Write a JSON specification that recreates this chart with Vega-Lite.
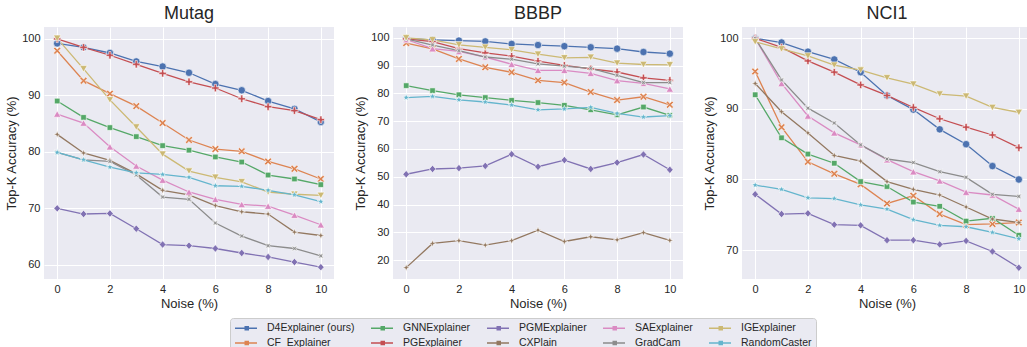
{
  "$schema": "https://vega.github.io/schema/vega-lite/v6.json",
  "background": "white",
  "padding": {"left": 5, "top": 5, "right": 0, "bottom": 0},
  "bounds": "flush",
  "spacing": 59,
  "config": {
    "font": "Liberation Sans",
    "view": {"fill": "#EAEAF2", "stroke": null},
    "axis": {
      "domain": false, "ticks": false, "grid": true, "gridColor": "#FFFFFF", "gridWidth": 1,
      "labelFont": "Liberation Sans", "labelFontSize": 11, "labelColor": "#262626", "labelPadding": 4,
      "titleFont": "Liberation Sans", "titleFontSize": 13, "titleFontWeight": "normal", "titleColor": "#262626", "titlePadding": 3
    },
    "title": {"font": "Liberation Sans", "fontSize": 18, "fontWeight": "normal", "color": "#262626", "offset": 4},
    "legend": {"labelFont": "Liberation Sans"}
  },
  "data": {"name": "all"},
  "datasets": {
    "all": [
      {"d":"Mutag","m":"D4Explainer (ours)","x":0,"y":99.2},{"d":"Mutag","m":"D4Explainer (ours)","x":1,"y":98.5},{"d":"Mutag","m":"D4Explainer (ours)","x":2,"y":97.5},{"d":"Mutag","m":"D4Explainer (ours)","x":3,"y":96.0},{"d":"Mutag","m":"D4Explainer (ours)","x":4,"y":95.1},{"d":"Mutag","m":"D4Explainer (ours)","x":5,"y":94.0},{"d":"Mutag","m":"D4Explainer (ours)","x":6,"y":92.0},{"d":"Mutag","m":"D4Explainer (ours)","x":7,"y":90.9},{"d":"Mutag","m":"D4Explainer (ours)","x":8,"y":89.0},{"d":"Mutag","m":"D4Explainer (ours)","x":9,"y":87.6},{"d":"Mutag","m":"D4Explainer (ours)","x":10,"y":85.3},
      {"d":"Mutag","m":"CF_Explainer","x":0,"y":97.9},{"d":"Mutag","m":"CF_Explainer","x":1,"y":92.6},{"d":"Mutag","m":"CF_Explainer","x":2,"y":90.3},{"d":"Mutag","m":"CF_Explainer","x":3,"y":88.1},{"d":"Mutag","m":"CF_Explainer","x":4,"y":85.1},{"d":"Mutag","m":"CF_Explainer","x":5,"y":82.1},{"d":"Mutag","m":"CF_Explainer","x":6,"y":80.5},{"d":"Mutag","m":"CF_Explainer","x":7,"y":80.1},{"d":"Mutag","m":"CF_Explainer","x":8,"y":78.3},{"d":"Mutag","m":"CF_Explainer","x":9,"y":77.0},{"d":"Mutag","m":"CF_Explainer","x":10,"y":75.2},
      {"d":"Mutag","m":"GNNExplainer","x":0,"y":89.0},{"d":"Mutag","m":"GNNExplainer","x":1,"y":86.1},{"d":"Mutag","m":"GNNExplainer","x":2,"y":84.3},{"d":"Mutag","m":"GNNExplainer","x":3,"y":82.7},{"d":"Mutag","m":"GNNExplainer","x":4,"y":81.1},{"d":"Mutag","m":"GNNExplainer","x":5,"y":80.3},{"d":"Mutag","m":"GNNExplainer","x":6,"y":79.1},{"d":"Mutag","m":"GNNExplainer","x":7,"y":78.2},{"d":"Mutag","m":"GNNExplainer","x":8,"y":75.9},{"d":"Mutag","m":"GNNExplainer","x":9,"y":75.2},{"d":"Mutag","m":"GNNExplainer","x":10,"y":74.2},
      {"d":"Mutag","m":"PGExplainer","x":0,"y":100.0},{"d":"Mutag","m":"PGExplainer","x":1,"y":98.5},{"d":"Mutag","m":"PGExplainer","x":2,"y":97.1},{"d":"Mutag","m":"PGExplainer","x":3,"y":95.5},{"d":"Mutag","m":"PGExplainer","x":4,"y":93.9},{"d":"Mutag","m":"PGExplainer","x":5,"y":92.4},{"d":"Mutag","m":"PGExplainer","x":6,"y":91.3},{"d":"Mutag","m":"PGExplainer","x":7,"y":89.4},{"d":"Mutag","m":"PGExplainer","x":8,"y":88.0},{"d":"Mutag","m":"PGExplainer","x":9,"y":87.3},{"d":"Mutag","m":"PGExplainer","x":10,"y":85.7},
      {"d":"Mutag","m":"PGMExplainer","x":0,"y":70.0},{"d":"Mutag","m":"PGMExplainer","x":1,"y":69.0},{"d":"Mutag","m":"PGMExplainer","x":2,"y":69.1},{"d":"Mutag","m":"PGMExplainer","x":3,"y":66.4},{"d":"Mutag","m":"PGMExplainer","x":4,"y":63.6},{"d":"Mutag","m":"PGMExplainer","x":5,"y":63.4},{"d":"Mutag","m":"PGMExplainer","x":6,"y":62.9},{"d":"Mutag","m":"PGMExplainer","x":7,"y":62.1},{"d":"Mutag","m":"PGMExplainer","x":8,"y":61.4},{"d":"Mutag","m":"PGMExplainer","x":9,"y":60.5},{"d":"Mutag","m":"PGMExplainer","x":10,"y":59.6},
      {"d":"Mutag","m":"CXPlain","x":0,"y":83.1},{"d":"Mutag","m":"CXPlain","x":1,"y":79.8},{"d":"Mutag","m":"CXPlain","x":2,"y":78.5},{"d":"Mutag","m":"CXPlain","x":3,"y":76.1},{"d":"Mutag","m":"CXPlain","x":4,"y":73.2},{"d":"Mutag","m":"CXPlain","x":5,"y":72.4},{"d":"Mutag","m":"CXPlain","x":6,"y":70.5},{"d":"Mutag","m":"CXPlain","x":7,"y":69.4},{"d":"Mutag","m":"CXPlain","x":8,"y":69.0},{"d":"Mutag","m":"CXPlain","x":9,"y":65.8},{"d":"Mutag","m":"CXPlain","x":10,"y":65.2},
      {"d":"Mutag","m":"SAExplainer","x":0,"y":86.7},{"d":"Mutag","m":"SAExplainer","x":1,"y":85.1},{"d":"Mutag","m":"SAExplainer","x":2,"y":80.9},{"d":"Mutag","m":"SAExplainer","x":3,"y":77.5},{"d":"Mutag","m":"SAExplainer","x":4,"y":75.0},{"d":"Mutag","m":"SAExplainer","x":5,"y":72.9},{"d":"Mutag","m":"SAExplainer","x":6,"y":71.6},{"d":"Mutag","m":"SAExplainer","x":7,"y":70.7},{"d":"Mutag","m":"SAExplainer","x":8,"y":70.4},{"d":"Mutag","m":"SAExplainer","x":9,"y":68.8},{"d":"Mutag","m":"SAExplainer","x":10,"y":67.1},
      {"d":"Mutag","m":"GradCam","x":0,"y":79.9},{"d":"Mutag","m":"GradCam","x":1,"y":78.6},{"d":"Mutag","m":"GradCam","x":2,"y":78.3},{"d":"Mutag","m":"GradCam","x":3,"y":75.9},{"d":"Mutag","m":"GradCam","x":4,"y":72.0},{"d":"Mutag","m":"GradCam","x":5,"y":71.6},{"d":"Mutag","m":"GradCam","x":6,"y":67.4},{"d":"Mutag","m":"GradCam","x":7,"y":65.1},{"d":"Mutag","m":"GradCam","x":8,"y":63.4},{"d":"Mutag","m":"GradCam","x":9,"y":62.9},{"d":"Mutag","m":"GradCam","x":10,"y":61.6},
      {"d":"Mutag","m":"IGExplainer","x":0,"y":100.1},{"d":"Mutag","m":"IGExplainer","x":1,"y":94.7},{"d":"Mutag","m":"IGExplainer","x":2,"y":89.2},{"d":"Mutag","m":"IGExplainer","x":3,"y":84.4},{"d":"Mutag","m":"IGExplainer","x":4,"y":79.6},{"d":"Mutag","m":"IGExplainer","x":5,"y":76.6},{"d":"Mutag","m":"IGExplainer","x":6,"y":75.5},{"d":"Mutag","m":"IGExplainer","x":7,"y":74.7},{"d":"Mutag","m":"IGExplainer","x":8,"y":72.9},{"d":"Mutag","m":"IGExplainer","x":9,"y":72.5},{"d":"Mutag","m":"IGExplainer","x":10,"y":72.3},
      {"d":"Mutag","m":"RandomCaster","x":0,"y":79.9},{"d":"Mutag","m":"RandomCaster","x":1,"y":78.6},{"d":"Mutag","m":"RandomCaster","x":2,"y":77.3},{"d":"Mutag","m":"RandomCaster","x":3,"y":76.3},{"d":"Mutag","m":"RandomCaster","x":4,"y":76.0},{"d":"Mutag","m":"RandomCaster","x":5,"y":75.5},{"d":"Mutag","m":"RandomCaster","x":6,"y":74.0},{"d":"Mutag","m":"RandomCaster","x":7,"y":73.9},{"d":"Mutag","m":"RandomCaster","x":8,"y":73.2},{"d":"Mutag","m":"RandomCaster","x":9,"y":72.4},{"d":"Mutag","m":"RandomCaster","x":10,"y":71.2},

      {"d":"BBBP","m":"D4Explainer (ours)","x":0,"y":99.8},{"d":"BBBP","m":"D4Explainer (ours)","x":1,"y":99.3},{"d":"BBBP","m":"D4Explainer (ours)","x":2,"y":99.0},{"d":"BBBP","m":"D4Explainer (ours)","x":3,"y":98.7},{"d":"BBBP","m":"D4Explainer (ours)","x":4,"y":97.8},{"d":"BBBP","m":"D4Explainer (ours)","x":5,"y":97.4},{"d":"BBBP","m":"D4Explainer (ours)","x":6,"y":97.0},{"d":"BBBP","m":"D4Explainer (ours)","x":7,"y":96.6},{"d":"BBBP","m":"D4Explainer (ours)","x":8,"y":96.1},{"d":"BBBP","m":"D4Explainer (ours)","x":9,"y":94.9},{"d":"BBBP","m":"D4Explainer (ours)","x":10,"y":94.3},
      {"d":"BBBP","m":"CF_Explainer","x":0,"y":98.1},{"d":"BBBP","m":"CF_Explainer","x":1,"y":96.0},{"d":"BBBP","m":"CF_Explainer","x":2,"y":92.4},{"d":"BBBP","m":"CF_Explainer","x":3,"y":89.4},{"d":"BBBP","m":"CF_Explainer","x":4,"y":87.6},{"d":"BBBP","m":"CF_Explainer","x":5,"y":84.7},{"d":"BBBP","m":"CF_Explainer","x":6,"y":83.9},{"d":"BBBP","m":"CF_Explainer","x":7,"y":80.5},{"d":"BBBP","m":"CF_Explainer","x":8,"y":77.6},{"d":"BBBP","m":"CF_Explainer","x":9,"y":78.8},{"d":"BBBP","m":"CF_Explainer","x":10,"y":75.9},
      {"d":"BBBP","m":"GNNExplainer","x":0,"y":82.8},{"d":"BBBP","m":"GNNExplainer","x":1,"y":81.0},{"d":"BBBP","m":"GNNExplainer","x":2,"y":79.5},{"d":"BBBP","m":"GNNExplainer","x":3,"y":78.5},{"d":"BBBP","m":"GNNExplainer","x":4,"y":77.5},{"d":"BBBP","m":"GNNExplainer","x":5,"y":76.7},{"d":"BBBP","m":"GNNExplainer","x":6,"y":75.7},{"d":"BBBP","m":"GNNExplainer","x":7,"y":74.1},{"d":"BBBP","m":"GNNExplainer","x":8,"y":72.3},{"d":"BBBP","m":"GNNExplainer","x":9,"y":75.1},{"d":"BBBP","m":"GNNExplainer","x":10,"y":72.1},
      {"d":"BBBP","m":"PGExplainer","x":0,"y":99.6},{"d":"BBBP","m":"PGExplainer","x":1,"y":98.6},{"d":"BBBP","m":"PGExplainer","x":2,"y":96.1},{"d":"BBBP","m":"PGExplainer","x":3,"y":94.6},{"d":"BBBP","m":"PGExplainer","x":4,"y":93.4},{"d":"BBBP","m":"PGExplainer","x":5,"y":91.6},{"d":"BBBP","m":"PGExplainer","x":6,"y":90.1},{"d":"BBBP","m":"PGExplainer","x":7,"y":88.8},{"d":"BBBP","m":"PGExplainer","x":8,"y":87.7},{"d":"BBBP","m":"PGExplainer","x":9,"y":85.6},{"d":"BBBP","m":"PGExplainer","x":10,"y":84.7},
      {"d":"BBBP","m":"PGMExplainer","x":0,"y":50.9},{"d":"BBBP","m":"PGMExplainer","x":1,"y":52.8},{"d":"BBBP","m":"PGMExplainer","x":2,"y":53.1},{"d":"BBBP","m":"PGMExplainer","x":3,"y":53.9},{"d":"BBBP","m":"PGMExplainer","x":4,"y":58.1},{"d":"BBBP","m":"PGMExplainer","x":5,"y":53.6},{"d":"BBBP","m":"PGMExplainer","x":6,"y":56.0},{"d":"BBBP","m":"PGMExplainer","x":7,"y":52.8},{"d":"BBBP","m":"PGMExplainer","x":8,"y":55.1},{"d":"BBBP","m":"PGMExplainer","x":9,"y":58.0},{"d":"BBBP","m":"PGMExplainer","x":10,"y":52.5},
      {"d":"BBBP","m":"CXPlain","x":0,"y":17.3},{"d":"BBBP","m":"CXPlain","x":1,"y":26.0},{"d":"BBBP","m":"CXPlain","x":2,"y":27.0},{"d":"BBBP","m":"CXPlain","x":3,"y":25.4},{"d":"BBBP","m":"CXPlain","x":4,"y":27.0},{"d":"BBBP","m":"CXPlain","x":5,"y":30.8},{"d":"BBBP","m":"CXPlain","x":6,"y":26.7},{"d":"BBBP","m":"CXPlain","x":7,"y":28.4},{"d":"BBBP","m":"CXPlain","x":8,"y":27.3},{"d":"BBBP","m":"CXPlain","x":9,"y":29.9},{"d":"BBBP","m":"CXPlain","x":10,"y":27.1},
      {"d":"BBBP","m":"SAExplainer","x":0,"y":99.4},{"d":"BBBP","m":"SAExplainer","x":1,"y":96.1},{"d":"BBBP","m":"SAExplainer","x":2,"y":95.1},{"d":"BBBP","m":"SAExplainer","x":3,"y":93.1},{"d":"BBBP","m":"SAExplainer","x":4,"y":90.5},{"d":"BBBP","m":"SAExplainer","x":5,"y":88.3},{"d":"BBBP","m":"SAExplainer","x":6,"y":88.3},{"d":"BBBP","m":"SAExplainer","x":7,"y":87.2},{"d":"BBBP","m":"SAExplainer","x":8,"y":84.6},{"d":"BBBP","m":"SAExplainer","x":9,"y":83.6},{"d":"BBBP","m":"SAExplainer","x":10,"y":81.6},
      {"d":"BBBP","m":"GradCam","x":0,"y":99.6},{"d":"BBBP","m":"GradCam","x":1,"y":97.4},{"d":"BBBP","m":"GradCam","x":2,"y":95.4},{"d":"BBBP","m":"GradCam","x":3,"y":93.1},{"d":"BBBP","m":"GradCam","x":4,"y":92.3},{"d":"BBBP","m":"GradCam","x":5,"y":90.6},{"d":"BBBP","m":"GradCam","x":6,"y":89.8},{"d":"BBBP","m":"GradCam","x":7,"y":89.0},{"d":"BBBP","m":"GradCam","x":8,"y":86.5},{"d":"BBBP","m":"GradCam","x":9,"y":83.9},{"d":"BBBP","m":"GradCam","x":10,"y":83.9},
      {"d":"BBBP","m":"IGExplainer","x":0,"y":100.0},{"d":"BBBP","m":"IGExplainer","x":1,"y":99.3},{"d":"BBBP","m":"IGExplainer","x":2,"y":97.5},{"d":"BBBP","m":"IGExplainer","x":3,"y":96.6},{"d":"BBBP","m":"IGExplainer","x":4,"y":95.7},{"d":"BBBP","m":"IGExplainer","x":5,"y":94.1},{"d":"BBBP","m":"IGExplainer","x":6,"y":92.8},{"d":"BBBP","m":"IGExplainer","x":7,"y":93.0},{"d":"BBBP","m":"IGExplainer","x":8,"y":90.9},{"d":"BBBP","m":"IGExplainer","x":9,"y":90.4},{"d":"BBBP","m":"IGExplainer","x":10,"y":90.3},
      {"d":"BBBP","m":"RandomCaster","x":0,"y":78.5},{"d":"BBBP","m":"RandomCaster","x":1,"y":78.9},{"d":"BBBP","m":"RandomCaster","x":2,"y":77.7},{"d":"BBBP","m":"RandomCaster","x":3,"y":76.9},{"d":"BBBP","m":"RandomCaster","x":4,"y":75.8},{"d":"BBBP","m":"RandomCaster","x":5,"y":74.1},{"d":"BBBP","m":"RandomCaster","x":6,"y":74.4},{"d":"BBBP","m":"RandomCaster","x":7,"y":75.0},{"d":"BBBP","m":"RandomCaster","x":8,"y":72.8},{"d":"BBBP","m":"RandomCaster","x":9,"y":71.5},{"d":"BBBP","m":"RandomCaster","x":10,"y":72.0},

      {"d":"NCI1","m":"D4Explainer (ours)","x":0,"y":100.0},{"d":"NCI1","m":"D4Explainer (ours)","x":1,"y":99.4},{"d":"NCI1","m":"D4Explainer (ours)","x":2,"y":98.1},{"d":"NCI1","m":"D4Explainer (ours)","x":3,"y":97.0},{"d":"NCI1","m":"D4Explainer (ours)","x":4,"y":95.2},{"d":"NCI1","m":"D4Explainer (ours)","x":5,"y":91.9},{"d":"NCI1","m":"D4Explainer (ours)","x":6,"y":89.9},{"d":"NCI1","m":"D4Explainer (ours)","x":7,"y":87.1},{"d":"NCI1","m":"D4Explainer (ours)","x":8,"y":85.0},{"d":"NCI1","m":"D4Explainer (ours)","x":9,"y":81.9},{"d":"NCI1","m":"D4Explainer (ours)","x":10,"y":80.0},
      {"d":"NCI1","m":"CF_Explainer","x":0,"y":95.3},{"d":"NCI1","m":"CF_Explainer","x":1,"y":87.4},{"d":"NCI1","m":"CF_Explainer","x":2,"y":82.5},{"d":"NCI1","m":"CF_Explainer","x":3,"y":80.8},{"d":"NCI1","m":"CF_Explainer","x":4,"y":79.3},{"d":"NCI1","m":"CF_Explainer","x":5,"y":76.6},{"d":"NCI1","m":"CF_Explainer","x":6,"y":77.7},{"d":"NCI1","m":"CF_Explainer","x":7,"y":75.1},{"d":"NCI1","m":"CF_Explainer","x":8,"y":73.6},{"d":"NCI1","m":"CF_Explainer","x":9,"y":73.7},{"d":"NCI1","m":"CF_Explainer","x":10,"y":73.9},
      {"d":"NCI1","m":"GNNExplainer","x":0,"y":92.0},{"d":"NCI1","m":"GNNExplainer","x":1,"y":85.9},{"d":"NCI1","m":"GNNExplainer","x":2,"y":83.6},{"d":"NCI1","m":"GNNExplainer","x":3,"y":82.3},{"d":"NCI1","m":"GNNExplainer","x":4,"y":79.7},{"d":"NCI1","m":"GNNExplainer","x":5,"y":79.0},{"d":"NCI1","m":"GNNExplainer","x":6,"y":76.8},{"d":"NCI1","m":"GNNExplainer","x":7,"y":76.2},{"d":"NCI1","m":"GNNExplainer","x":8,"y":74.1},{"d":"NCI1","m":"GNNExplainer","x":9,"y":74.5},{"d":"NCI1","m":"GNNExplainer","x":10,"y":72.1},
      {"d":"NCI1","m":"PGExplainer","x":0,"y":100.0},{"d":"NCI1","m":"PGExplainer","x":1,"y":98.7},{"d":"NCI1","m":"PGExplainer","x":2,"y":96.8},{"d":"NCI1","m":"PGExplainer","x":3,"y":95.2},{"d":"NCI1","m":"PGExplainer","x":4,"y":93.4},{"d":"NCI1","m":"PGExplainer","x":5,"y":91.9},{"d":"NCI1","m":"PGExplainer","x":6,"y":90.2},{"d":"NCI1","m":"PGExplainer","x":7,"y":88.6},{"d":"NCI1","m":"PGExplainer","x":8,"y":87.4},{"d":"NCI1","m":"PGExplainer","x":9,"y":86.3},{"d":"NCI1","m":"PGExplainer","x":10,"y":84.5},
      {"d":"NCI1","m":"PGMExplainer","x":0,"y":77.9},{"d":"NCI1","m":"PGMExplainer","x":1,"y":75.1},{"d":"NCI1","m":"PGMExplainer","x":2,"y":75.2},{"d":"NCI1","m":"PGMExplainer","x":3,"y":73.6},{"d":"NCI1","m":"PGMExplainer","x":4,"y":73.5},{"d":"NCI1","m":"PGMExplainer","x":5,"y":71.4},{"d":"NCI1","m":"PGMExplainer","x":6,"y":71.4},{"d":"NCI1","m":"PGMExplainer","x":7,"y":70.8},{"d":"NCI1","m":"PGMExplainer","x":8,"y":71.3},{"d":"NCI1","m":"PGMExplainer","x":9,"y":69.8},{"d":"NCI1","m":"PGMExplainer","x":10,"y":67.5},
      {"d":"NCI1","m":"CXPlain","x":0,"y":93.6},{"d":"NCI1","m":"CXPlain","x":1,"y":89.6},{"d":"NCI1","m":"CXPlain","x":2,"y":86.6},{"d":"NCI1","m":"CXPlain","x":3,"y":83.4},{"d":"NCI1","m":"CXPlain","x":4,"y":82.6},{"d":"NCI1","m":"CXPlain","x":5,"y":79.7},{"d":"NCI1","m":"CXPlain","x":6,"y":78.6},{"d":"NCI1","m":"CXPlain","x":7,"y":77.8},{"d":"NCI1","m":"CXPlain","x":8,"y":76.1},{"d":"NCI1","m":"CXPlain","x":9,"y":74.4},{"d":"NCI1","m":"CXPlain","x":10,"y":73.9},
      {"d":"NCI1","m":"SAExplainer","x":0,"y":100.0},{"d":"NCI1","m":"SAExplainer","x":1,"y":93.6},{"d":"NCI1","m":"SAExplainer","x":2,"y":89.0},{"d":"NCI1","m":"SAExplainer","x":3,"y":86.6},{"d":"NCI1","m":"SAExplainer","x":4,"y":84.9},{"d":"NCI1","m":"SAExplainer","x":5,"y":82.8},{"d":"NCI1","m":"SAExplainer","x":6,"y":81.1},{"d":"NCI1","m":"SAExplainer","x":7,"y":79.8},{"d":"NCI1","m":"SAExplainer","x":8,"y":78.2},{"d":"NCI1","m":"SAExplainer","x":9,"y":77.8},{"d":"NCI1","m":"SAExplainer","x":10,"y":75.8},
      {"d":"NCI1","m":"GradCam","x":0,"y":100.0},{"d":"NCI1","m":"GradCam","x":1,"y":94.1},{"d":"NCI1","m":"GradCam","x":2,"y":90.1},{"d":"NCI1","m":"GradCam","x":3,"y":88.0},{"d":"NCI1","m":"GradCam","x":4,"y":84.9},{"d":"NCI1","m":"GradCam","x":5,"y":82.9},{"d":"NCI1","m":"GradCam","x":6,"y":82.4},{"d":"NCI1","m":"GradCam","x":7,"y":81.1},{"d":"NCI1","m":"GradCam","x":8,"y":80.3},{"d":"NCI1","m":"GradCam","x":9,"y":77.9},{"d":"NCI1","m":"GradCam","x":10,"y":77.6},
      {"d":"NCI1","m":"IGExplainer","x":0,"y":99.5},{"d":"NCI1","m":"IGExplainer","x":1,"y":98.5},{"d":"NCI1","m":"IGExplainer","x":2,"y":97.5},{"d":"NCI1","m":"IGExplainer","x":3,"y":96.2},{"d":"NCI1","m":"IGExplainer","x":4,"y":95.5},{"d":"NCI1","m":"IGExplainer","x":5,"y":94.4},{"d":"NCI1","m":"IGExplainer","x":6,"y":93.5},{"d":"NCI1","m":"IGExplainer","x":7,"y":92.1},{"d":"NCI1","m":"IGExplainer","x":8,"y":91.8},{"d":"NCI1","m":"IGExplainer","x":9,"y":90.2},{"d":"NCI1","m":"IGExplainer","x":10,"y":89.5},
      {"d":"NCI1","m":"RandomCaster","x":0,"y":79.2},{"d":"NCI1","m":"RandomCaster","x":1,"y":78.6},{"d":"NCI1","m":"RandomCaster","x":2,"y":77.4},{"d":"NCI1","m":"RandomCaster","x":3,"y":77.3},{"d":"NCI1","m":"RandomCaster","x":4,"y":76.4},{"d":"NCI1","m":"RandomCaster","x":5,"y":75.8},{"d":"NCI1","m":"RandomCaster","x":6,"y":74.3},{"d":"NCI1","m":"RandomCaster","x":7,"y":73.5},{"d":"NCI1","m":"RandomCaster","x":8,"y":73.3},{"d":"NCI1","m":"RandomCaster","x":9,"y":72.5},{"d":"NCI1","m":"RandomCaster","x":10,"y":71.6}
    ]
  },
  "hconcat": [
    {
      "title": "Mutag",
      "width": 290, "height": 252,
      "transform": [{"filter": "datum.d === 'Mutag'"}],
      "encoding": {
        "x": {"field": "x", "type": "quantitative", "scale": {"domain": [-0.5, 10.5], "nice": false, "zero": false}, "axis": {"values": [0, 2, 4, 6, 8, 10], "title": "Noise (%)"}},
        "y": {"field": "y", "type": "quantitative", "scale": {"domain": [57.5, 102.1], "nice": false, "zero": false}, "axis": {"values": [60, 70, 80, 90, 100], "title": "Top-K Accuracy (%)"}}
      },
      "layer": [
        {"mark": {"type": "line", "strokeWidth": 1.3},
         "encoding": {"color": {"field": "m", "type": "nominal",
          "scale": {"domain": ["D4Explainer (ours)", "CF_Explainer", "GNNExplainer", "PGExplainer", "PGMExplainer", "CXPlain", "SAExplainer", "GradCam", "IGExplainer", "RandomCaster"],
                    "range": ["#4C72B0", "#DD8452", "#55A868", "#C44E52", "#8172B3", "#937860", "#DA8BC3", "#8C8C8C", "#CCB974", "#64B5CD"]},
          "legend": {"title": null, "orient": "none", "legendX": 186, "legendY": 291, "columns": 5, "gridAlign": "each", "columnPadding": 13, "rowPadding": 3,
                     "symbolType": "M-1,0H3.4M1.05,-0.3H1.65V0.3H1.05Z", "symbolSize": 100, "symbolStrokeWidth": 1.5,
                     "labelFontSize": 10.5, "labelColor": "#262626", "labelOffset": 21, "labelLimit": 0,
                     "fillColor": "#EAEAF2", "strokeColor": "#CCCCCC", "padding": 4, "cornerRadius": 3}}}},
        {"mark": {"type": "point", "filled": true, "stroke": "white", "strokeWidth": 0.6, "opacity": 1, "size": 55},
         "encoding": {
          "fill": {"field": "m", "type": "nominal", "legend": null,
            "scale": {"domain": ["D4Explainer (ours)", "GNNExplainer", "PGMExplainer", "SAExplainer", "IGExplainer", "CF_Explainer", "PGExplainer", "CXPlain", "GradCam", "RandomCaster"],
                      "range": ["#4C72B0", "#55A868", "#8172B3", "#DA8BC3", "#CCB974", "#DD8452", "#C44E52", "#937860", "#8C8C8C", "#64B5CD"]}},
          "shape": {"field": "m", "type": "nominal", "legend": null,
           "scale": {"domain": ["D4Explainer (ours)", "GNNExplainer", "PGMExplainer", "SAExplainer", "IGExplainer", "CF_Explainer", "PGExplainer", "CXPlain", "GradCam", "RandomCaster"],
                     "range": ["circle", "M-0.75,-0.75H0.75V0.75H-0.75Z", "M0,-1L0.9,0L0,1L-0.9,0Z", "triangle-up", "triangle-down",
                               "M-1,-0.6L-0.6,-1L0,-0.4L0.6,-1L1,-0.6L0.4,0L1,0.6L0.6,1L0,0.4L-0.6,1L-1,0.6L-0.4,0Z",
                               "M-0.3,-1H0.3V-0.3H1V0.3H0.3V1H-0.3V0.3H-1V-0.3H-0.3Z",
                               "M0,-1L0.25,-0.25L1,0L0.25,0.25L0,1L-0.25,0.25L-1,0L-0.25,-0.25Z",
                               "M-0.75,-0.75L0,-0.35L0.75,-0.75L0.35,0L0.75,0.75L0,0.35L-0.75,0.75L-0.35,0Z",
                               "M0,-1L0.235,-0.324L0.951,-0.309L0.38,0.124L0.588,0.809L0,0.4L-0.588,0.809L-0.38,0.124L-0.951,-0.309L-0.235,-0.324Z"]}}}}
      ]
    },
    {
      "title": "BBBP",
      "width": 290, "height": 252,
      "transform": [{"filter": "datum.d === 'BBBP'"}],
      "encoding": {
        "x": {"field": "x", "type": "quantitative", "scale": {"domain": [-0.5, 10.5], "nice": false, "zero": false}, "axis": {"values": [0, 2, 4, 6, 8, 10], "title": "Noise (%)"}},
        "y": {"field": "y", "type": "quantitative", "scale": {"domain": [13.2, 103.9], "nice": false, "zero": false}, "axis": {"values": [20, 30, 40, 50, 60, 70, 80, 90, 100], "title": "Top-K Accuracy (%)"}}
      },
      "layer": [
        {"mark": {"type": "line", "strokeWidth": 1.3}, "encoding": {"color": {"field": "m", "type": "nominal"}}},
        {"mark": {"type": "point", "filled": true, "stroke": "white", "strokeWidth": 0.6, "opacity": 1, "size": 55},
         "encoding": {"fill": {"field": "m", "type": "nominal", "legend": null}, "shape": {"field": "m", "type": "nominal", "legend": null}}}
      ]
    },
    {
      "title": "NCI1",
      "width": 290, "height": 252,
      "transform": [{"filter": "datum.d === 'NCI1'"}],
      "encoding": {
        "x": {"field": "x", "type": "quantitative", "scale": {"domain": [-0.5, 10.5], "nice": false, "zero": false}, "axis": {"values": [0, 2, 4, 6, 8, 10], "title": "Noise (%)"}},
        "y": {"field": "y", "type": "quantitative", "scale": {"domain": [65.9, 101.6], "nice": false, "zero": false}, "axis": {"values": [70, 80, 90, 100], "title": "Top-K Accuracy (%)"}}
      },
      "layer": [
        {"mark": {"type": "line", "strokeWidth": 1.3}, "encoding": {"color": {"field": "m", "type": "nominal"}}},
        {"mark": {"type": "point", "filled": true, "stroke": "white", "strokeWidth": 0.6, "opacity": 1, "size": 55},
         "encoding": {"fill": {"field": "m", "type": "nominal", "legend": null}, "shape": {"field": "m", "type": "nominal", "legend": null}}}
      ]
    }
  ],
  "resolve": {"scale": {"x": "independent", "y": "independent"}}
}
